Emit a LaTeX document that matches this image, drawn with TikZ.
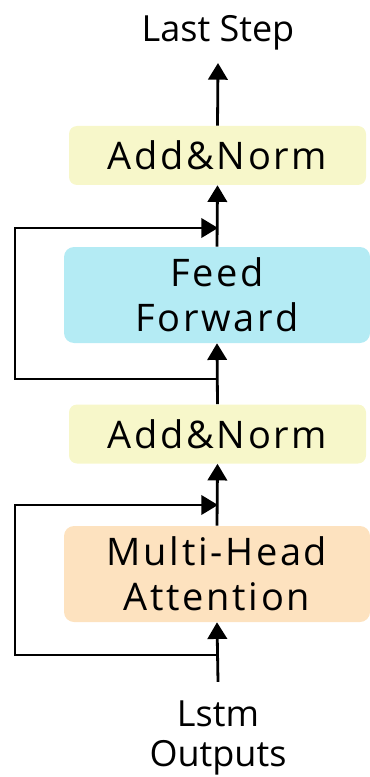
\documentclass[tikz,border=0pt]{standalone}
\usepackage{fontspec}
\setmainfont{Open Sans}
\newfontfamily\spaced[LetterSpace=7]{Open Sans}
\usetikzlibrary{arrows.meta}
\definecolor{normfill}{HTML}{F7F7CA}
\definecolor{ffill}{HTML}{B4EBF4}
\definecolor{attfill}{HTML}{FDE2BF}
\begin{document}
\begin{tikzpicture}[x=0.75pt,y=-0.75pt,
  block/.style={rounded corners=7.5pt, draw=none, align=center, inner sep=0pt,
    font=\spaced\fontsize{28.5pt}{33.75pt}\selectfont},
  normbox/.style={block, fill=normfill, minimum width=222.75pt, minimum height=44.25pt, rounded corners=6pt},
  bigbox/.style={block, minimum width=229.5pt, minimum height=72pt},
  label/.style={inner sep=0pt, align=center, font=\fontsize{27pt}{30pt}\selectfont},
  flow/.style={line width=2.1pt, -{Triangle[width=14.5pt,length=12.5pt]}},
  wire/.style={line width=2.1pt}]
\useasboundingbox (0,0) rectangle (370,777);

% blocks, bottom to top
\node[bigbox, fill=attfill] (att) at (217,574) {Multi-Head\\Attention};
\node[normbox] (norm1) at (217.5,434) {Add\&Norm};
\node[bigbox, fill=ffill] (ff) at (217,295) {Feed\\Forward};
\node[normbox] (norm2) at (217.5,155.5) {Add\&Norm};

% input and output labels
\node[label] (lstm) at (218,738) {Lstm\\Outputs};
\node[label] (last) at (218,33) {Last Step};

% residual branch points
\coordinate (j1) at (218,655);
\coordinate (j2) at (218,379);
\coordinate (m1) at (218,505);
\coordinate (m2) at (218,228);

% main path
\draw[flow] ([yshift=14pt]lstm.north) -- (att.south);
\draw[flow] (att.north) -- (norm1.south);
\draw[flow] (norm1.north) -- (ff.south);
\draw[flow] (ff.north) -- (norm2.south);
\draw[flow] (norm2.north) -- ([yshift=-9.3pt]last.south);

% residual connections
\draw[flow, rounded corners=0pt] (j1) -- (15,655) -- (15,505) -- (m1);
\draw[flow, rounded corners=0pt] (j2) -- (15,379) -- (15,228) -- (m2);
\end{tikzpicture}
\end{document}
